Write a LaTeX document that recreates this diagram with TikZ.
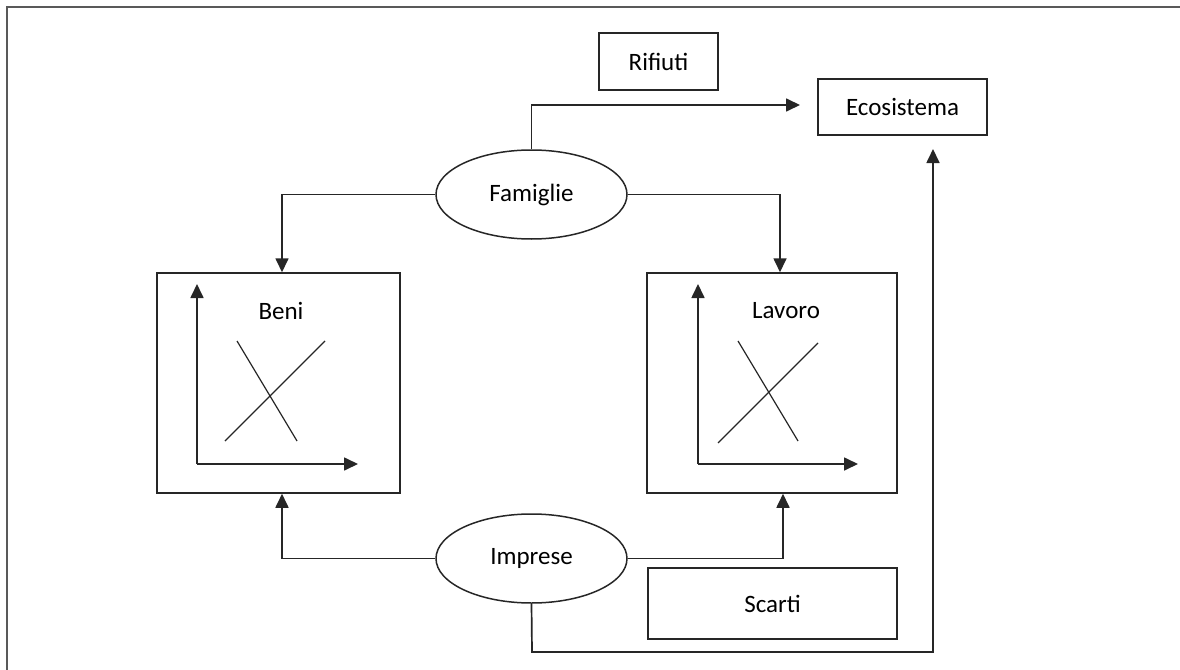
\documentclass[tikz,border=0pt]{standalone}
\usepackage{fontspec}
\setmainfont{Carlito}
\usetikzlibrary{arrows.meta,shapes.geometric}
\tikzset{
  box/.style={draw=black!85, line width=1.5pt, inner sep=0pt, font=\fontsize{25}{29}\selectfont},
  oval/.style={ellipse, draw=black!85, line width=1.5pt, minimum width=191pt, minimum height=89pt, inner sep=0pt, font=\fontsize{25}{29}\selectfont},
  conn/.style={draw=black!85, line width=1.7pt},
  arr/.style={conn, -{Triangle[length=14pt,width=13pt]}},
  cross/.style={draw=black!85, line width=1.2pt},
  lbl/.style={font=\fontsize{25}{29}\selectfont, inner sep=0pt},
  frame/.style={draw=black!65, line width=2pt}
}
\begin{document}
\begin{tikzpicture}[x=1pt,y=-1pt]
\useasboundingbox (0,0) rectangle (1180,669);
% outer frame (top and left only visible)
\draw[frame] (1181,7) -- (7,7) -- (7,670);

% boxes
\node[box, minimum width=119pt, minimum height=57pt] (rif) at (658.5,61.5) {Rifiuti};
\node[box, minimum width=169pt, minimum height=56pt] (eco) at (902.5,107) {Ecosistema};
\node[box, minimum width=243pt, minimum height=220pt] (beni) at (278.5,383) {};
\node[box, minimum width=250pt, minimum height=220pt] (lav) at (772,383) {};
\node[box, minimum width=249pt, minimum height=71pt] (sca) at (772.5,603.5) {Scarti};

% ellipses
\node[oval] (fam) at (531.5,194.5) {Famiglie};
\node[oval] (imp) at (531.5,558.5) {Imprese};

% inner labels
\node[lbl] (tb) at (281,311) {Beni};
\node[lbl] (tl) at (786,311) {Lavoro};

% inner diagrams: Beni
\coordinate (bo) at (197,464);
\coordinate (by) at (197,284);
\coordinate (bx) at (358,464);
\draw[arr] (bo) -- (by);
\draw[arr] (bo) -- (bx);
\coordinate (b1) at (237,341); \coordinate (b2) at (297,441);
\coordinate (b3) at (225,441); \coordinate (b4) at (325,341);
\draw[cross] (b1) -- (b2);
\draw[cross] (b3) -- (b4);

% inner diagrams: Lavoro
\coordinate (lo) at (698,464);
\coordinate (ly) at (698,284);
\coordinate (lx) at (858,464);
\draw[arr] (lo) -- (ly);
\draw[arr] (lo) -- (lx);
\coordinate (l1) at (738,341); \coordinate (l2) at (798,441);
\coordinate (l3) at (718,443); \coordinate (l4) at (818,343);
\draw[cross] (l1) -- (l2);
\draw[cross] (l3) -- (l4);

% connectors
\coordinate (rifend) at (800,105);
\draw[arr] (fam.north) |- (rifend);
\draw[arr] (fam.west) -| ([xshift=3.5pt]beni.north);
\draw[arr] (fam.east) -| ([xshift=8pt]lav.north);
\draw[arr] (imp.west) -| ([xshift=3.5pt]beni.south);
\draw[arr] (imp.east) -| ([xshift=11pt]lav.south);
\coordinate (ecoend) at (933,149);
\coordinate (bend) at (532,652);
\draw[arr] (imp.south) -- (bend) -| (ecoend);
\end{tikzpicture}
\end{document}
